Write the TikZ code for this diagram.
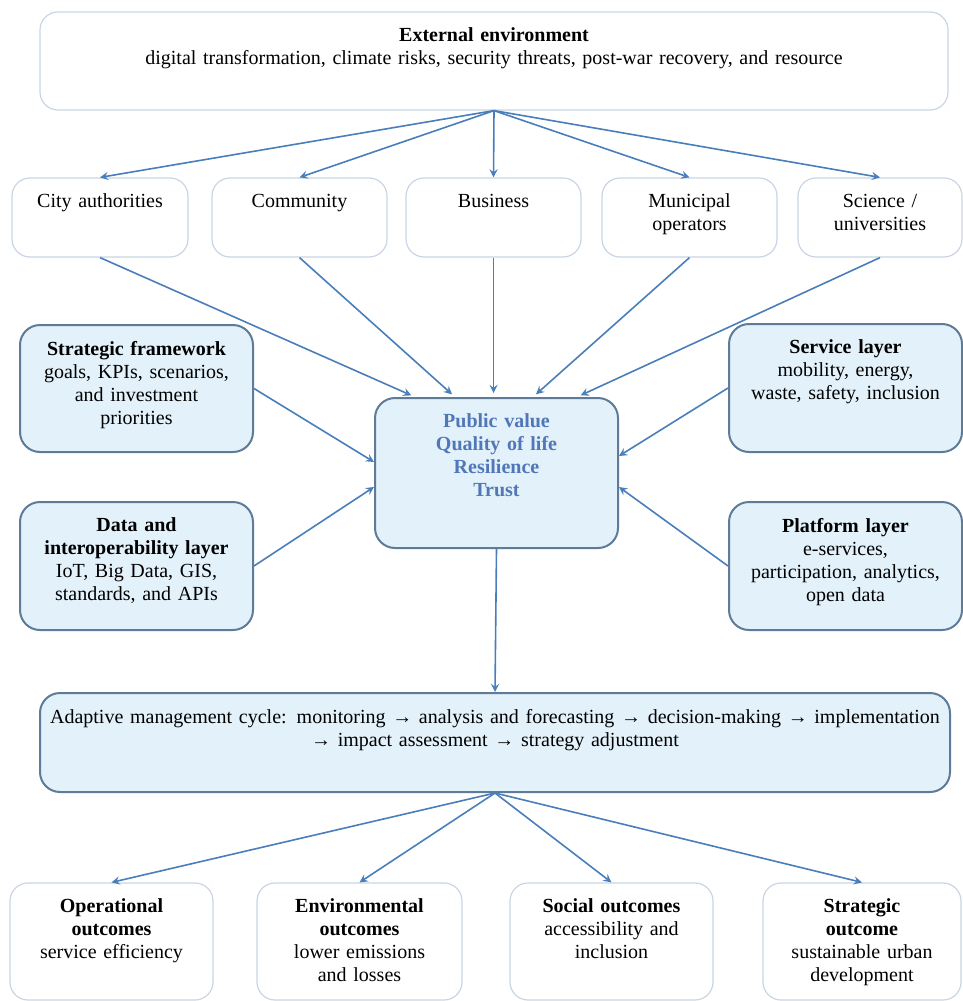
\documentclass[tikz,border=0pt]{standalone}
\usepackage{fontspec}
\setmainfont{Liberation Serif}

\definecolor{arrowblue}{HTML}{4A7EBB}
\definecolor{layerfill}{HTML}{E3F1FA}
\definecolor{layerline}{HTML}{5E7B98}
\definecolor{plainline}{HTML}{C9D5E4}
\definecolor{valuetext}{HTML}{5078B8}

% text set at the top of a box of fixed height
\newcommand{\toptext}[2]{\parbox[c][#1][t]{\linewidth}{\centering #2}}

\begin{document}
\begin{tikzpicture}[x=0.5pt, y=-0.5pt,
   every node/.style={font=\fontsize{10}{11.5}\selectfont},
   plainbox/.style={draw=plainline, line width=0.6pt, rounded corners=9pt, fill=white, inner xsep=0pt, inner ysep=8pt},
   layerbox/.style={draw=layerline, line width=1pt, rounded corners=10pt, fill=layerfill, inner xsep=0pt, inner ysep=8pt},
   link/.style={->, >=stealth, thick, draw=arrowblue}]%
   \useasboundingbox (0,0) rectangle (963,1001);
   % external environment
   \node[plainbox, text width=454pt] (env) at (494,61) {\toptext{33pt}{\textbf{External environment}\\ digital transformation, climate risks, security threats, post-war recovery, and resource}};
   % stakeholders
   \node[plainbox, text width=88pt] (city) at (100,217.5) {\toptext{23.5pt}{City authorities}};
   \node[plainbox, text width=87.5pt] (community) at (299.5,217.5) {\toptext{23.5pt}{Community}};
   \node[plainbox, text width=87.5pt] (business) at (493.5,217.5) {\toptext{23.5pt}{Business}};
   \node[plainbox, text width=87.5pt] (operators) at (689.5,217.5) {\toptext{23.5pt}{Municipal\\ operators}};
   \node[plainbox, text width=82pt] (science) at (880,217.5) {\toptext{23.5pt}{Science /\\ universities}};
   % layers
   \node[layerbox, text width=116.5pt] (framework) at (136.5,388.5) {\toptext{47.5pt}{\textbf{Strategic framework}\\ goals, KPIs, scenarios,\\ and investment\\ priorities}};
   \node[layerbox, text width=116.5pt] (data) at (136.5,566) {\toptext{48pt}{\textbf{Data and}\\ \textbf{interoperability layer}\\ IoT, Big Data, GIS,\\ standards, and APIs}};
   \node[layerbox, text width=116.5pt] (service) at (845.5,388) {\toptext{48pt}{\textbf{Service layer}\\ mobility, energy,\\ waste, safety, inclusion}};
   \node[layerbox, text width=116.5pt] (platform) at (845.5,566) {\toptext{48pt}{\textbf{Platform layer}\\ e-services,\\ participation, analytics,\\ open data}};
   \node[layerbox, text width=121.5pt, text=valuetext] (value) at (496.5,473) {\toptext{59pt}{\bfseries Public value\\ Quality of life\\ Resilience\\ Trust}};
   % management cycle
   \node[layerbox, text width=455pt] (cycle) at (495,742.5) {\toptext{33.5pt}{Adaptive management cycle: monitoring → analysis and forecasting → decision-making → implementation\\ → impact assessment → strategy adjustment}};
   % outcomes
   \node[plainbox, text width=101.5pt] (operational) at (111.5,941.5) {\toptext{42.5pt}{\textbf{Operational}\\ \textbf{outcomes}\\ service efficiency}};
   \node[plainbox, text width=102.5pt] (environmental) at (359.5,941.5) {\toptext{42.5pt}{\textbf{Environmental}\\ \textbf{outcomes}\\ lower emissions\\ and losses}};
   \node[plainbox, text width=101.5pt] (social) at (611.5,941.5) {\toptext{42.5pt}{\textbf{Social outcomes}\\ accessibility and\\ inclusion}};
   \node[plainbox, text width=99pt] (strategic) at (862,941.5) {\toptext{42.5pt}{\textbf{Strategic}\\ \textbf{outcome}\\ sustainable urban\\ development}};
   % arrows
   \foreach \n in {city, community, business, operators, science}
      \draw[link] (env.south) -- (\n.north);
   \foreach \n/\dx in {city/-40.75, community/-20.75, operators/18.25, science/40.25}
      \draw[link, shorten >=2pt] (\n.south) -- ([xshift=\dx pt]value.north);
   \draw[link, shorten >=2pt] (business.south) -- (business.south |- value.north);
   \draw[link] (framework.east) -- ([yshift=5.5pt]value.west);
   \draw[link] (data.east) -- ([yshift=-7pt]value.west);
   \draw[link] (service.west) -- ([yshift=8.5pt]value.east);
   \draw[link] (platform.west) -- ([yshift=-7pt]value.east);
   \draw[link] (value.south) -- (cycle.north);
   \foreach \n in {operational, environmental, social, strategic}
      \draw[link] (cycle.south) -- (\n.north);
\end{tikzpicture}
\end{document}
